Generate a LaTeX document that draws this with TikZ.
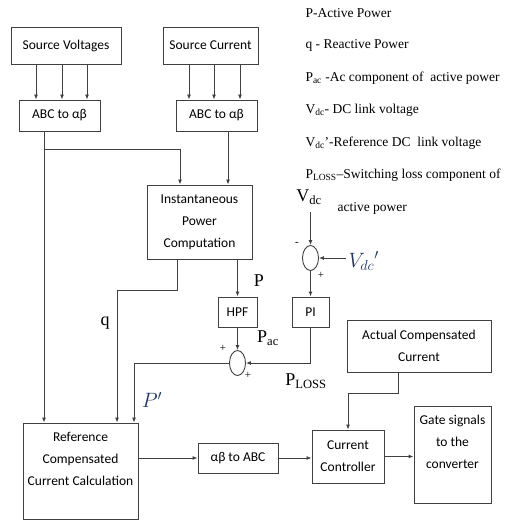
\documentclass[tikz,border=0pt]{standalone}
\usepackage{fontspec}
\setmainfont{Liberation Serif}
\newfontfamily\boxfont{Carlito}
\usetikzlibrary{arrows.meta,positioning,shapes.geometric}
\definecolor{linegray}{RGB}{64,64,64}
\definecolor{primeblue}{RGB}{31,56,100}

\begin{document}
\begin{tikzpicture}[x=1pt, y=-1pt,
    boxtext/.style={font=\boxfont\fontsize{13.5}{22}\selectfont, align=center, inner sep=0pt},
    blk/.style={boxtext, draw=linegray, line width=0.9pt},
    sig/.style={draw=linegray, line width=0.9pt, -{Latex[length=5pt,width=4pt]}},
    sumc/.style={draw=linegray, line width=0.9pt, ellipse, inner sep=0pt, minimum width=16pt, minimum height=25pt},
    lbl/.style={font=\fontsize{18}{20}\selectfont},
    sgn/.style={font=\fontsize{11}{12}\selectfont},
    legend/.style={font=\fontsize{13.5}{15}\selectfont, anchor=west}]
    \useasboundingbox (0,0) rectangle (505,521);

    % blocks
    \node[blk, minimum width=110pt, minimum height=37pt] (srcV) at (66,45.5) {Source Voltages};
    \node[blk, minimum width=95pt, minimum height=37pt] (srcI) at (210.5,45.5) {Source Current};
    \node[blk, minimum width=81pt, minimum height=31pt] (abcV) at (59.5,115.5) {ABC to αβ};
    \node[blk, minimum width=81pt, minimum height=31pt] (abcI) at (216.5,115.5) {ABC to αβ};
    \node[blk, minimum width=105pt, minimum height=74pt] (ipc) at (199.5,222) {Instantaneous\\Power\\Computation};
    \node[blk, minimum width=39pt, minimum height=30pt] (hpf) at (237.5,312) {HPF};
    \node[blk, minimum width=37pt, minimum height=30pt] (pi) at (310.5,312) {PI};
    \node[sumc] (sumdc) at (310.5,258) {};
    \node[sumc] (sump) at (237.5,363) {};
    \node[blk, minimum width=144pt, minimum height=52pt] (act) at (419,346) {Actual Compensated\\Current};
    \node[blk, minimum width=115pt, minimum height=96pt] (ref) at (80.5,471) {};
    \node[boxtext, anchor=north] (reftxt) at ([yshift=-9pt]ref.north) {Reference\\Compensated\\Current Calculation};
    \node[blk, minimum width=80pt, minimum height=30pt] (abc2) at (238,458) {αβ to ABC};
    \node[blk, minimum width=72pt, minimum height=53pt] (cc) at (348,456.5) {Current\\Controller};
    \node[blk, minimum width=77pt, minimum height=97pt] (gate) at (452.5,454.5) {};
    \node[boxtext, anchor=north] (gatetxt) at ([yshift=-9pt]gate.north) {Gate signals\\to the\\converter};
    \coordinate (vdcin) at (310.5,212);
    \coordinate (vdcref) at (346,258);
    \coordinate (branch) at (44,149);

    % signal lines
    \foreach \x in {36,62,87}
        \draw[sig] (srcV.south -| \x,0) -- (abcV.north -| \x,0);
    \foreach \x in {189,214,240}
        \draw[sig] (srcI.south -| \x,0) -- (abcI.north -| \x,0);
    \draw[sig] (abcV.south -| branch) -- (ref.north -| branch);
    \draw[sig] (branch) -| (ipc.north -| 180,0);
    \draw[sig] (abcI.south -| 228,0) -- (ipc.north -| 228,0);
    \draw[sig] (ipc.south -| 177,0) -- ++(0,31) -| (ref.north -| 117,0);
    \draw[sig] (ipc.south -| hpf) -- (hpf.north);
    \draw[sig] (hpf.south) -- (sump.north);
    \draw[sig] (pi.south) |- (sump.east);
    \draw[sig] (sump.west) -| (ref.north -| 134,0);
    \draw[sig] (vdcin) -- (sumdc.north);
    \draw[sig] (vdcref) -- (sumdc.east);
    \draw[sig] (sumdc.south) -- (pi.north);
    \draw[sig] (ref.east |- abc2.west) -- (abc2.west);
    \draw[sig] (abc2.east) -- (cc.west |- abc2.east);
    \draw[sig] (cc.east) -- (gate.west |- cc.east);
    \draw[sig] (act.south -| 398,0) -- ++(0,21) -| (cc.north);

    % signal names
    \node[lbl] (lp) at (259,281) {P};
    \node[lbl] (lq) at (105,323) {q};
    \node[lbl] (lpac) at (268,338) {P\textsubscript{ac}};
    \node[lbl] (lploss) at (306,381) {P\textsubscript{LOSS}};
    \node[lbl] (lvdc) at (309,197) {V\textsubscript{dc}};
    \node[lbl, font=\fontsize{21}{22}\selectfont, text=primeblue, anchor=west] (lvref) at (345,261) {$V_{dc}{}'$};
    \node[lbl, font=\fontsize{21}{22}\selectfont, text=primeblue] (lpp) at (152,400) {$P'$};
    \node[sgn] (sg1) at (297,244) {-};
    \node[sgn] (sg2) at (321,275) {+};
    \node[sgn] (sg3) at (223,348) {+};
    \node[sgn] (sg4) at (248,375) {+};

    % legend
    \node[legend] (lg1) at (302,13) {P-Active Power};
    \node[legend] (lg2) at (302,45.5) {q - Reactive Power};
    \node[legend] (lg3) at (302,78) {P\textsubscript{ac} -Ac component of\ \ active power};
    \node[legend] (lg4) at (302,110.5) {V\textsubscript{dc}- DC link voltage};
    \node[legend] (lg5) at (302,143) {V\textsubscript{dc}’-Reference DC\ \ link voltage};
    \node[legend] (lg6) at (302,175.5) {P\textsubscript{LOSS}–Switching loss component of};
    \node[legend] (lg7) at (334,208) {active power};
\end{tikzpicture}
\end{document}
